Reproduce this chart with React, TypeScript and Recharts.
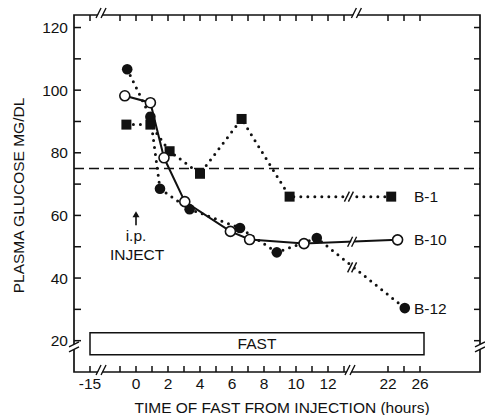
import React from 'react';
import {
  ComposedChart,
  Line,
  XAxis,
  YAxis,
  ReferenceLine,
  ReferenceArea,
  ReferenceDot,
} from 'recharts';

const FONT = '"Liberation Sans", Arial, Helvetica, sans-serif';
const INK = '#111';
const FS = 15.5;

// ---- data (hours after injection, plasma glucose mg/dl) ----
const b1Hours = [-0.6, 0.9, 2.1, 4.0, 6.6, 9.6, 22.4];
const b1Glucose = [89, 89, 80.5, 73.3, 90.8, 66, 66];
const b10Hours = [-0.7, 0.9, 1.75, 3.05, 5.9, 7.1, 10.5, 23.2];
const b10Glucose = [98.2, 96, 78.4, 64.4, 54.9, 52.3, 51, 52.2];
const b12Hours = [-0.55, 0.9, 1.5, 3.35, 6.5, 8.8, 11.3, 24.1];
const b12Glucose = [106.7, 91.5, 68.5, 62, 56, 48.2, 52.8, 30.4];

const seriesNames = ['B-1', 'B-10', 'B-12'];
const normalGlucose = 75;
const fastPeriod = [-15, 26.5];
const fastBand = [15.5, 22.5];
const fastLabel = 'FAST';
const injectHour = 0;
const injectLabels = ['i.p.', 'INJECT'];

const xTickHours = [-15, -1, 0, 1, 2, 3, 4, 5, 6, 7, 8, 9, 10, 11, 12, 13, 22, 24, 26];
const xLabelHours = [-15, 0, 2, 4, 6, 8, 10, 12, 22, 26];
const yTicks = [20, 30, 40, 50, 60, 70, 80, 90, 100, 110, 120];
const yLabels = [20, 40, 60, 80, 100, 120];
const yDomain = [10, 124];

const xTitle = 'TIME OF FAST FROM INJECTION (hours)';
const yTitle = 'PLASMA GLUCOSE MG/DL';

// broken time axis: -15 h squeezed to the left, 22-26 h compressed to the right
const toAxis = (h: number) => {
  if (h <= -10) return -2.875 + (h + 15) * 0.1;
  if (h >= 20) return 15.75 + (h - 22) * 0.5;
  return h;
};
const xDomain = [-3.875, 21.5];

const mk = (hs: number[], vs: number[]) => hs.map((h, i) => ({ x: toAxis(h), y: vs[i] }));
const b1Data = mk(b1Hours, b1Glucose);
const b10Data = mk(b10Hours, b10Glucose);
const b12Data = mk(b12Hours, b12Glucose);

const labelX = 17.375;
const bottomBreaks = [-2.06, 13.5];
const topBreaks = [-2.06, 13.9];
const sideBreak = 18;
const lineBreaks = [
  { x: 13.4, y: 66 },
  { x: 13.6, y: 51.6 },
  { x: 13.6, y: 43.4 },
];

const hourAt = (v: number) => xTickHours.find((h) => Math.abs(toAxis(h) - v) < 1e-6);
const xFmt = (v: number) => {
  const h = hourAt(v);
  return h !== undefined && xLabelHours.includes(h) ? String(h) : '';
};
const yFmt = (v: number) => (yLabels.includes(v) ? String(v) : '');

// ticks drawn as thin filled bars, pointing into the plot
const TickUp = (p: any) => <rect x={p.cx - 0.75} y={p.cy - 6} width={1.5} height={6} fill={INK} />;
const TickDown = (p: any) => <rect x={p.cx - 0.75} y={p.cy} width={1.5} height={6} fill={INK} />;
const TickRight = (p: any) => <rect x={p.cx} y={p.cy - 0.75} width={7} height={1.5} fill={INK} />;
const TickLeft = (p: any) => <rect x={p.cx - 6} y={p.cy - 0.75} width={6} height={1.5} fill={INK} />;

const HBreak = (p: any) => (
  <g>
    <polygon points={`${p.cx - 6},${p.cy + 2} ${p.cx - 3},${p.cy - 4} ${p.cx + 1},${p.cy - 4} ${p.cx - 2},${p.cy + 2}`} fill="#fff" />
    <path d={`M${p.cx - 7},${p.cy + 3} L${p.cx - 2},${p.cy - 7} M${p.cx - 2},${p.cy + 3} L${p.cx + 3},${p.cy - 7}`} stroke={INK} strokeWidth={1.4} fill="none" />
  </g>
);
const VBreak = (p: any) => (
  <g>
    <polygon points={`${p.cx - 3},${p.cy - 1} ${p.cx + 3},${p.cy - 4} ${p.cx + 3},${p.cy + 1} ${p.cx - 3},${p.cy + 4}`} fill="#fff" />
    <path d={`M${p.cx - 5},${p.cy} L${p.cx + 5},${p.cy - 5} M${p.cx - 5},${p.cy + 5} L${p.cx + 5},${p.cy}`} stroke={INK} strokeWidth={1.4} fill="none" />
  </g>
);
const LineBreak = (p: any) => (
  <g>
    <polygon points={`${p.cx - 5},${p.cy + 5} ${p.cx},${p.cy - 5} ${p.cx + 3},${p.cy - 5} ${p.cx - 2},${p.cy + 5}`} fill="#fff" />
    <path d={`M${p.cx - 6},${p.cy + 5} L${p.cx - 1},${p.cy - 5} M${p.cx - 2},${p.cy + 5} L${p.cx + 3},${p.cy - 5}`} stroke={INK} strokeWidth={1.4} fill="none" />
  </g>
);

const SquareDot = (p: any) => (
  <rect key={`s${p.index}`} x={p.cx - 5} y={p.cy - 5} width={10} height={10} fill={INK} />
);
const FilledDot = (p: any) => <circle key={`f${p.index}`} cx={p.cx} cy={p.cy} r={5.3} fill={INK} />;
const OpenDot = (p: any) => (
  <circle key={`o${p.index}`} cx={p.cx} cy={p.cy} r={5} fill="#fff" stroke={INK} strokeWidth={1.6} />
);

const SeriesLabel = (text: string) => (p: any) => (
  <text x={p.cx} y={p.cy + 5.5} textAnchor="start" fontFamily={FONT} fontSize={FS} fill={INK}>
    {text}
  </text>
);

const InjectMark = (p: any) => (
  <g>
    <rect x={p.cx - 0.8} y={p.cy + 3} width={1.6} height={10} fill={INK} />
    <path d={`M${p.cx - 3.5},${p.cy + 5} L${p.cx},${p.cy - 1} L${p.cx + 3.5},${p.cy + 5} Z`} fill={INK} />
    <text x={p.cx} y={p.cy + 29} textAnchor="middle" fontFamily={FONT} fontSize={FS} fill={INK}>
      {injectLabels[0]}
    </text>
    <text x={p.cx + 1} y={p.cy + 48} textAnchor="middle" fontFamily={FONT} fontSize={FS} fill={INK}>
      {injectLabels[1]}
    </text>
  </g>
);

const dotted = { strokeDasharray: '0 7', strokeLinecap: 'round' as const, strokeWidth: 3 };
const tickStyle = { fill: INK, fontSize: FS, fontFamily: FONT };

export default function App() {
  return (
    <div style={{ position: 'absolute', left: 0, top: 0, width: 485, height: 415 }}>
      <ComposedChart width={485} height={415} margin={{ top: 15, right: 5, bottom: 0, left: 0 }}>
        <XAxis
          dataKey="x"
          type="number"
          domain={xDomain}
          ticks={xTickHours.map(toAxis)}
          interval={0}
          allowDataOverflow
          axisLine={false}
          tickLine={false}
          tickSize={0}
          tickMargin={6}
          height={43}
          tick={tickStyle}
          tickFormatter={xFmt}
          label={{
            value: xTitle,
            position: 'insideBottom',
            offset: 2,
            dx: 5,
            style: { fontFamily: FONT, fontSize: FS, fill: INK },
          }}
        />
        <YAxis
          type="number"
          domain={yDomain}
          ticks={yTicks}
          interval={0}
          allowDataOverflow
          axisLine={false}
          tickLine={false}
          tickSize={0}
          tickMargin={6}
          width={74}
          tick={tickStyle}
          tickFormatter={yFmt}
          label={{
            value: yTitle,
            angle: -90,
            position: 'insideLeft',
            offset: 18,
            dy: 2,
            style: { fontFamily: FONT, fontSize: FS, fill: INK, textAnchor: 'middle' },
          }}
        />
        {/* plot frame */}
        <ReferenceArea
          x1={xDomain[0]}
          x2={xDomain[1]}
          y1={yDomain[0]}
          y2={yDomain[1]}
          fill="none"
          fillOpacity={0}
          stroke={INK}
          strokeWidth={1.7}
          ifOverflow="visible"
        />
        <ReferenceArea
          x1={toAxis(fastPeriod[0])}
          x2={toAxis(fastPeriod[1])}
          y1={fastBand[0]}
          y2={fastBand[1]}
          fill="#fff"
          fillOpacity={1}
          stroke={INK}
          strokeWidth={1.5}
          ifOverflow="visible"
          label={{ value: fastLabel, position: 'center', style: { fontFamily: FONT, fontSize: FS, fill: INK } }}
        />
        <ReferenceLine y={normalGlucose} stroke={INK} strokeWidth={1.4} strokeDasharray="10 5" />
        {xTickHours.map((h) => (
          <ReferenceDot key={`tb${h}`} x={toAxis(h)} y={yDomain[0]} r={0} ifOverflow="visible" shape={TickUp} />
        ))}
        {xTickHours.map((h) => (
          <ReferenceDot key={`tt${h}`} x={toAxis(h)} y={yDomain[1]} r={0} ifOverflow="visible" shape={TickDown} />
        ))}
        {yTicks.map((v) => (
          <ReferenceDot key={`tl${v}`} x={xDomain[0]} y={v} r={0} ifOverflow="visible" shape={TickRight} />
        ))}
        {yTicks.map((v) => (
          <ReferenceDot key={`tr${v}`} x={xDomain[1]} y={v} r={0} ifOverflow="visible" shape={TickLeft} />
        ))}
        {bottomBreaks.map((b, i) => (
          <ReferenceDot key={`bb${i}`} x={b} y={yDomain[0]} r={0} ifOverflow="visible" shape={HBreak} />
        ))}
        {topBreaks.map((b, i) => (
          <ReferenceDot key={`bt${i}`} x={b} y={yDomain[1]} r={0} ifOverflow="visible" shape={HBreak} />
        ))}
        <ReferenceDot x={xDomain[0]} y={sideBreak} r={0} ifOverflow="visible" shape={VBreak} />
        <ReferenceDot x={xDomain[1]} y={sideBreak} r={0} ifOverflow="visible" shape={VBreak} />
        <Line data={b1Data} dataKey="y" type="linear" stroke={INK} {...dotted} dot={SquareDot} isAnimationActive={false} />
        <Line data={b12Data} dataKey="y" type="linear" stroke={INK} {...dotted} dot={FilledDot} isAnimationActive={false} />
        <Line data={b10Data} dataKey="y" type="linear" stroke={INK} strokeWidth={2} dot={OpenDot} isAnimationActive={false} />
        {lineBreaks.map((b, i) => (
          <ReferenceDot key={`lb${i}`} x={b.x} y={b.y} r={0} ifOverflow="visible" shape={LineBreak} />
        ))}
        <ReferenceDot x={labelX} y={b1Glucose[b1Glucose.length - 1]} r={0} ifOverflow="visible" shape={SeriesLabel(seriesNames[0])} />
        <ReferenceDot x={labelX} y={b10Glucose[b10Glucose.length - 1]} r={0} ifOverflow="visible" shape={SeriesLabel(seriesNames[1])} />
        <ReferenceDot x={labelX} y={b12Glucose[b12Glucose.length - 1]} r={0} ifOverflow="visible" shape={SeriesLabel(seriesNames[2])} />
        <ReferenceDot x={toAxis(injectHour)} y={61} r={0} ifOverflow="visible" shape={InjectMark} />
      </ComposedChart>
    </div>
  );
}
